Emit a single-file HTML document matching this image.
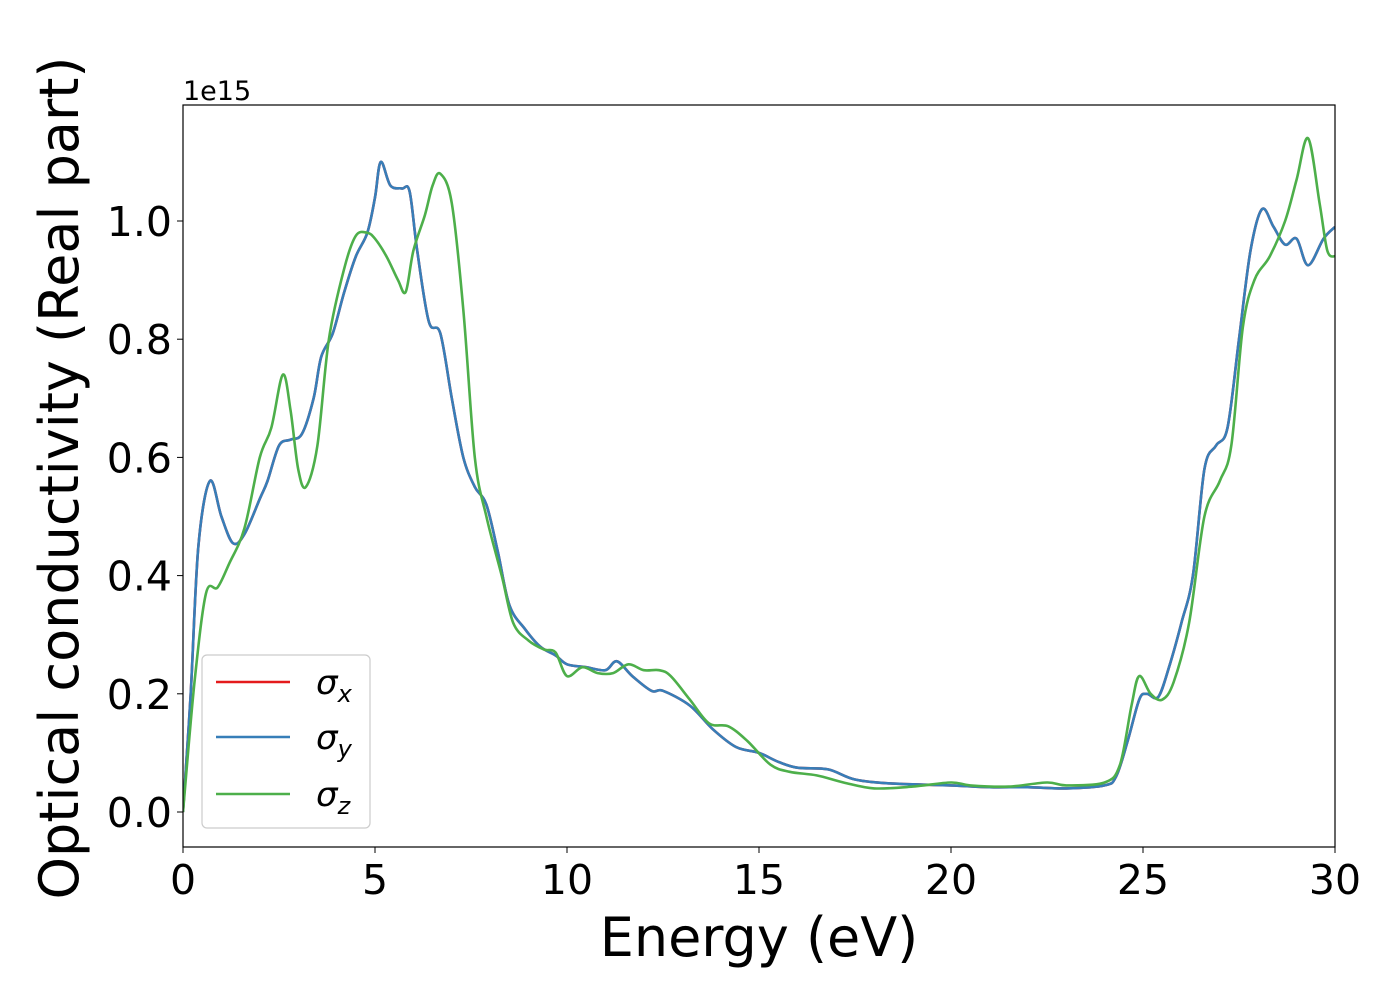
<!DOCTYPE html>
<html><head><meta charset="utf-8"><style>
html,body{margin:0;padding:0;background:#fff}
svg text{font-family:"DejaVu Sans","Liberation Sans",sans-serif;fill:#000}
</style></head><body>
<svg id="chart" width="1400" height="1000" xmlns="http://www.w3.org/2000/svg">
<rect width="1400" height="1000" fill="#fff"/>
<g id="plot"></g>
<g id="axes"></g>
</svg>
<script>
const xTicks=[0,5,10,15,20,25,30];
const yTicks=[0,0.2,0.4,0.6,0.8,1.0];
const yTickLabels=["0.0","0.2","0.4","0.6","0.8","1.0"];
const energyXY=[0,0.2,0.4,0.7,1.0,1.3,1.6,2.0,2.2,2.5,2.8,3.1,3.4,3.6,3.9,4.2,4.5,4.8,5.0,5.15,5.4,5.7,5.9,6.1,6.4,6.7,7.0,7.3,7.6,7.9,8.2,8.5,8.9,9.3,9.7,10.0,10.5,11.0,11.3,11.7,12.2,12.5,13.2,13.8,14.4,15.0,15.5,16.0,16.8,17.5,18.5,20.0,21.0,22.0,23.0,24.0,24.3,24.6,24.9,25.1,25.4,25.7,26.0,26.3,26.6,26.9,27.2,27.5,27.8,28.1,28.4,28.7,29.0,29.3,29.7,30.0];
const sigmaX=[0,0.2,0.45,0.56,0.5,0.455,0.47,0.53,0.56,0.62,0.63,0.64,0.7,0.77,0.81,0.88,0.94,0.98,1.04,1.10,1.06,1.055,1.05,0.95,0.83,0.81,0.7,0.6,0.55,0.52,0.44,0.35,0.31,0.28,0.265,0.25,0.245,0.24,0.255,0.23,0.205,0.205,0.18,0.14,0.11,0.1,0.085,0.075,0.072,0.055,0.048,0.045,0.042,0.042,0.04,0.045,0.06,0.12,0.19,0.2,0.195,0.25,0.32,0.4,0.58,0.62,0.65,0.8,0.95,1.02,0.99,0.96,0.97,0.925,0.97,0.99];
const sigmaY=sigmaX.slice();
const energyZ=[0,0.3,0.6,0.9,1.2,1.6,2.0,2.3,2.6,2.8,3.0,3.2,3.5,3.8,4.2,4.5,4.8,5.0,5.3,5.6,5.8,6.0,6.3,6.5,6.7,7.0,7.3,7.6,7.9,8.3,8.6,9.0,9.4,9.7,10.0,10.4,10.8,11.2,11.6,12.0,12.4,12.7,13.2,13.7,14.2,14.7,15.3,15.8,16.5,17.2,18.0,19.0,20.0,20.5,21.5,22.5,23.0,24.0,24.4,24.7,24.9,25.2,25.5,25.8,26.2,26.6,27.0,27.3,27.6,27.9,28.3,28.7,29.0,29.3,29.6,29.8,30.0];
const sigmaZ=[0,0.22,0.37,0.38,0.42,0.48,0.6,0.65,0.74,0.68,0.58,0.55,0.62,0.8,0.92,0.975,0.98,0.97,0.94,0.9,0.88,0.95,1.01,1.06,1.08,1.03,0.85,0.6,0.5,0.4,0.32,0.29,0.275,0.27,0.23,0.245,0.235,0.235,0.25,0.24,0.24,0.23,0.19,0.15,0.145,0.12,0.08,0.068,0.062,0.05,0.04,0.043,0.05,0.045,0.043,0.05,0.045,0.05,0.08,0.18,0.23,0.2,0.19,0.22,0.32,0.5,0.56,0.62,0.82,0.9,0.94,1.0,1.07,1.14,1.03,0.95,0.94];
const L=183,R=1335,T=105,B=847;
function sx(v){return L+(v-0)/30*(R-L);}
function sy(v){return 812-v*591;}
const NS="http://www.w3.org/2000/svg";
function mk(tag,parent){const e=document.createElementNS(NS,tag);parent.appendChild(e);return e;}
function smooth(xs,ys){
  const p=xs.map((x,i)=>[sx(x),sy(ys[i])]);
  let d="M"+p[0][0].toFixed(1)+","+p[0][1].toFixed(1);
  for(let i=0;i<p.length-1;i++){
    const p0=p[Math.max(0,i-1)],p1=p[i],p2=p[i+1],p3=p[Math.min(p.length-1,i+2)];
    const c1=[p1[0]+(p2[0]-p0[0])/6,p1[1]+(p2[1]-p0[1])/6];
    const c2=[p2[0]-(p3[0]-p1[0])/6,p2[1]-(p3[1]-p1[1])/6];
    d+=" C"+c1[0].toFixed(1)+","+c1[1].toFixed(1)+" "+c2[0].toFixed(1)+","+c2[1].toFixed(1)+" "+p2[0].toFixed(1)+","+p2[1].toFixed(1);
  }
  return d;
}
const plot=document.getElementById('plot');
const axes=document.getElementById('axes');
const defs=mk('defs',plot);
const cp=mk('clipPath',defs);cp.setAttribute('id','clip');
const cr=mk('rect',cp);cr.setAttribute('x',L);cr.setAttribute('y',T);cr.setAttribute('width',R-L);cr.setAttribute('height',B-T);
const series=[[energyXY,sigmaX,'#e41a1c','line-sigma-x'],[energyXY,sigmaY,'#377eb8','line-sigma-y'],[energyZ,sigmaZ,'#4daf4a','line-sigma-z']];
series.forEach(s=>{
  const p=mk('path',plot);
  
  
  p.setAttribute('d',smooth(s[0],s[1]));
  p.setAttribute('fill','none');p.setAttribute('stroke',s[2]);p.setAttribute('stroke-width','2.6');
  p.setAttribute('clip-path','url(#clip)');
});
const frame=mk('rect',axes);


frame.setAttribute('x',L);frame.setAttribute('y',T);frame.setAttribute('width',R-L);frame.setAttribute('height',B-T);
frame.setAttribute('fill','none');frame.setAttribute('stroke','#000');frame.setAttribute('stroke-width','1.2');
xTicks.forEach(v=>{
  const t=mk('line',axes);t.setAttribute('x1',sx(v));t.setAttribute('x2',sx(v));t.setAttribute('y1',B);t.setAttribute('y2',B+6);t.setAttribute('stroke','#000');
  const tx=mk('text',axes);
  
  
  tx.setAttribute('x',sx(v));tx.setAttribute('y',894);tx.setAttribute('text-anchor','middle');tx.setAttribute('font-size','41');
  tx.textContent=String(v);
});
yTicks.forEach((v,i)=>{
  const t=mk('line',axes);t.setAttribute('x1',L-6);t.setAttribute('x2',L);t.setAttribute('y1',sy(v));t.setAttribute('y2',sy(v));t.setAttribute('stroke','#000');
  const tx=mk('text',axes);
  
  
  tx.setAttribute('x',172);tx.setAttribute('y',sy(v)+15);tx.setAttribute('text-anchor','end');tx.setAttribute('font-size','41');
  tx.textContent=yTickLabels[i];
});
</script>
<svg style="position:absolute;left:0;top:0" width="1400" height="1000" xmlns="http://www.w3.org/2000/svg">
<text x="183" y="100" font-size="27" font-family="DejaVu Sans,Liberation Sans,sans-serif">1e15</text>
<text x="759" y="956" text-anchor="middle" font-size="54" font-family="DejaVu Sans,Liberation Sans,sans-serif">Energy (eV)</text>
<text transform="translate(78,478) rotate(-90)" text-anchor="middle" font-size="54" font-family="DejaVu Sans,Liberation Sans,sans-serif">Optical conductivity (Real part)</text>
<g>
<rect x="202" y="655" width="168" height="173" rx="5" fill="#fff" fill-opacity="0.8" stroke="#ccc" stroke-width="1.2"/>
<line x1="216" x2="290" y1="682" y2="682" stroke="#e41a1c" stroke-width="2.6"/>
<line x1="216" x2="290" y1="737" y2="737" stroke="#377eb8" stroke-width="2.6"/>
<line x1="216" x2="290" y1="794" y2="794" stroke="#4daf4a" stroke-width="2.6"/>
<text x="316" y="694" font-size="34" font-style="italic" font-family="DejaVu Sans,sans-serif">σ<tspan font-size="24" dy="8">x</tspan></text>
<text x="316" y="749" font-size="34" font-style="italic" font-family="DejaVu Sans,sans-serif">σ<tspan font-size="24" dy="8">y</tspan></text>
<text x="316" y="806" font-size="34" font-style="italic" font-family="DejaVu Sans,sans-serif">σ<tspan font-size="24" dy="8">z</tspan></text>
</g>
</svg>
</body></html>
